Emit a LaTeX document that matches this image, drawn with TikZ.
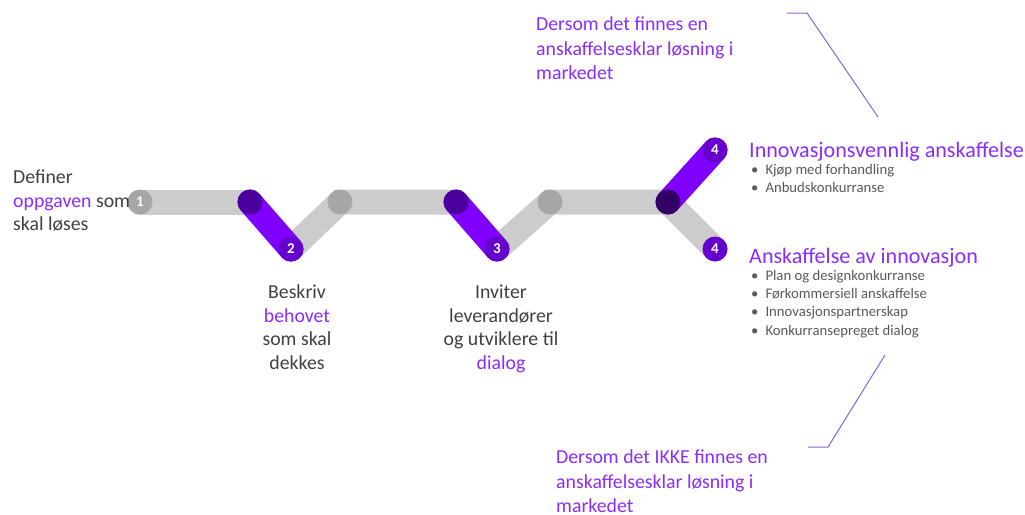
\documentclass[tikz,border=0pt]{standalone}
\usepackage{fontspec}
\setmainfont{Carlito}
\usepackage{xcolor}
\usetikzlibrary{positioning}
\definecolor{barlight}{HTML}{CCCCCC}
\definecolor{jointgrey}{HTML}{A6A6A6}
\definecolor{barpurple}{HTML}{7F00FF}
\definecolor{jointpurple}{HTML}{4B009E}
\definecolor{forkpurple}{HTML}{330066}
\definecolor{endpurple}{HTML}{6600CC}
\definecolor{inkpurple}{HTML}{8B2CFF}
\definecolor{inkdark}{HTML}{404040}
\definecolor{inkbullet}{HTML}{595959}
\definecolor{leadpurple}{HTML}{8A63D2}
\tikzset{
  % ---- track --------------------------------------------------------
  greybar/.style={draw=barlight, line width=25pt, line cap=round},
  purplebar/.style={greybar, draw=barpurple},
  knot/.style={circle, minimum size=25pt, inner sep=0pt, font=\fontsize{15}{15}\selectfont\bfseries, text=white},
  knotgrey/.style={knot, fill=jointgrey},
  knotpurple/.style={knot, fill=jointpurple},
  knotfork/.style={knot, fill=forkpurple},
  knotend/.style={knot, fill=endpurple},
  % ---- texts --------------------------------------------------------
  steptext/.style={font=\fontsize{19.8}{23.5}\selectfont, text=inkdark, inner sep=0pt},
  notetext/.style={font=\fontsize{19.8}{24.3}\selectfont, text=inkpurple, inner sep=0pt, align=left, anchor=north west},
  headtext/.style={font=\fontsize{22.1}{22.1}\selectfont, text=inkpurple, inner sep=0pt, anchor=base west},
  bullettext/.style={font=\fontsize{14.7}{18.2}\selectfont, text=inkbullet, inner sep=0pt, align=left, anchor=north west},
  leader/.style={draw=leadpurple, line width=1pt},
}
\newcommand{\hlt}[1]{\textcolor{inkpurple}{#1}}
\newcommand{\blt}{\textbullet\hspace{7pt}}

\begin{document}
\begin{tikzpicture}[x=1pt, y=-1pt]
\useasboundingbox (0,0) rectangle (1025,514);

% ---- track points ---------------------------------------------------
\coordinate (p1)  at (140,202);
\coordinate (p2a) at (250,202);
\coordinate (p2)  at (291,249);
\coordinate (p3a) at (340,202);
\coordinate (p3b) at (456,202);
\coordinate (p3)  at (497,249);
\coordinate (p4a) at (550,202);
\coordinate (pf)  at (668,202);
\coordinate (p4u) at (715,150);
\coordinate (p4d) at (715,249);

% ---- bars -----------------------------------------------------------
\draw[greybar] (p1) -- (p2a);
\draw[greybar] (p2) -- (p3a) -- (p3b);
\draw[greybar] (p3) -- (p4a) -- (pf) -- (p4d);
\draw[purplebar] (p2a) -- (p2);
\draw[purplebar] (p3b) -- (p3);
\draw[purplebar] (pf) -- (p4u);

% ---- knots ----------------------------------------------------------
\node[knotgrey]   (k1)  at (p1)  {1};
\node[knotpurple] (k2a) at (p2a) {};
\node[knotend]    (k2)  at (p2)  {2};
\node[knotgrey]   (k3a) at (p3a) {};
\node[knotpurple] (k3b) at (p3b) {};
\node[knotend]    (k3)  at (p3)  {3};
\node[knotgrey]   (k4a) at (p4a) {};
\node[knotfork]   (kf)  at (pf)  {};
\node[knotend]    (k4u) at (p4u) {4};
\node[knotend]    (k4d) at (p4d) {4};

% ---- step texts -----------------------------------------------------
\node[steptext, align=left, anchor=north west] (t1) at (13,170)
  {Definer\\\hlt{oppgaven} som\\skal løses};
\node[steptext, align=center, anchor=north] (t2) at (297,285)
  {Beskriv\\\hlt{behovet}\\som skal\\dekkes};
\node[steptext, align=center, anchor=north] (t3) at (501,285)
  {Inviter\\leverandører\\og utviklere til\\\hlt{dialog}};

% ---- branch texts ---------------------------------------------------
\node[headtext] (h1) at (749,157) {Innovasjonsvennlig anskaffelse};
\node[bullettext] (b1) at (751,164)
  {\blt Kjøp med forhandling\\\blt Anbudskonkurranse};
\node[headtext] (h2) at (749,263) {Anskaffelse av innovasjon};
\node[bullettext] (b2) at (751,270)
  {\blt Plan og designkonkurranse\\\blt Førkommersiell anskaffelse\\
   \blt Innovasjonspartnerskap\\\blt Konkurransepreget dialog};

% ---- notes ----------------------------------------------------------
\node[notetext] (n1) at (536,17)
  {Dersom det finnes en\\anskaffelsesklar løsning i\\markedet};
\node[notetext] (n2) at (556,450)
  {Dersom det IKKE finnes en\\anskaffelsesklar løsning i\\markedet};

\coordinate (l1a) at (787,13);
\coordinate (l1b) at (807,13);
\coordinate (l1c) at (878,117);
\draw[leader] (l1a) -- (l1b) -- (l1c);
\coordinate (l2a) at (885,355);
\coordinate (l2b) at (828,447);
\coordinate (l2c) at (808,447);
\draw[leader] (l2a) -- (l2b) -- (l2c);

\end{tikzpicture}
\end{document}
